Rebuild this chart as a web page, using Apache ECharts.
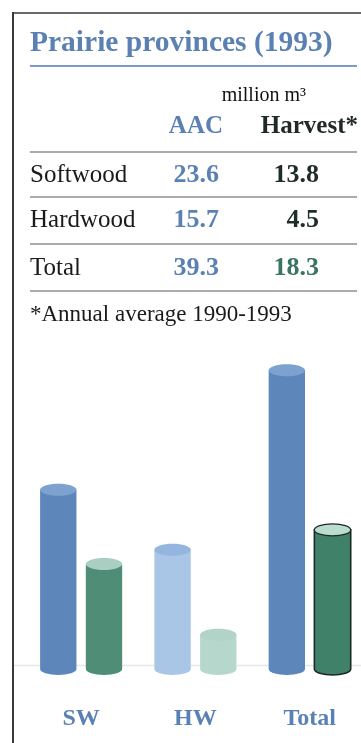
<!DOCTYPE html>
<html>
<head>
<meta charset="utf-8">
<script src="https://cdn.jsdelivr.net/npm/echarts@6/dist/echarts.min.js"></script>
<style>
  html, body { margin: 0; padding: 0; background: #ffffff; }
  #chart { width: 361px; height: 743px; }
</style>
</head>
<body>
<div id="chart"></div>
<script>
// Prairie provinces, 1993 — million m³
const categories = ['SW', 'HW', 'Total'];
const rowLabels = ['Softwood', 'Hardwood', 'Total'];
const aac = [23.6, 15.7, 39.3];
const harvest = [13.8, 4.5, 18.3];

const titleText = 'Prairie provinces (1993)';
const unitText = 'million m³';
const headers = ['AAC', 'Harvest*'];
const footnote = '*Annual average 1990-1993';

// cylinder colours per category: [body, cap, outline]
const aacColors = [
  ['#5d87bb', '#7ea2cf', null],
  ['#a9c6e7', '#94b5de', null],
  ['#5d87bb', '#7ea2cf', null]
];
const harvestColors = [
  ['#4f8d76', '#a9cfc2', null],
  ['#b6d7cb', '#b2d3c7', null],
  ['#3f8169', '#bcdcd2', '#1c2b24']
];

const SERIF = '"Liberation Serif", "DejaVu Serif", serif';
const BLUE = '#5a81b5';

function cylinder(offsetFrac, colors) {
  return function (params, api) {
    const idx = api.value(0);
    const top = api.coord([idx, api.value(1)]);
    const base = api.coord([idx, 0]);
    const band = api.size([1, 0])[0];
    const w = band * 0.318;
    const cx = top[0] + band * offsetFrac;
    const rx = w / 2;
    const ry = 6;
    const l = cx - rx, r = cx + rx;
    const c = colors[params.dataIndex];
    const body = 'M' + l + ',' + top[1] + ' L' + l + ',' + base[1] +
      ' A' + rx + ',' + ry + ' 0 0 0 ' + r + ',' + base[1] +
      ' L' + r + ',' + top[1] + ' Z';
    const stroke = c[2];
    return {
      type: 'group',
      children: [
        {
          type: 'path',
          shape: { pathData: body },
          style: { fill: c[0], stroke: stroke || null, lineWidth: stroke ? 1.6 : 0 }
        },
        {
          type: 'ellipse',
          shape: { cx: cx, cy: top[1], rx: rx, ry: ry },
          style: { fill: c[1], stroke: stroke || null, lineWidth: stroke ? 1.2 : 0 }
        }
      ]
    };
  };
}

// table text, built from the same arrays as the bars
const g = [];
function txt(text, x, y, size, color, weight, align) {
  g.push({
    type: 'text', x: x, y: y, z: 10,
    style: {
      text: text, fill: color, font: (weight || 'normal') + ' ' + size + 'px ' + SERIF,
      textAlign: align || 'left', textVerticalAlign: 'bottom'
    }
  });
}
function hline(y, x1, x2, color, width, z) {
  g.push({
    type: 'line', z: z == null ? 5 : z,
    shape: { x1: x1, y1: y, x2: x2, y2: y },
    style: { stroke: color, lineWidth: width }
  });
}

// frame
hline(13, 12, 361, '#3a3a3a', 1.5);
g.push({ type: 'line', z: 5, shape: { x1: 13, y1: 12, x2: 13, y2: 743 }, style: { stroke: '#3a3a3a', lineWidth: 2 } });

txt(titleText, 30, 58, 29.5, '#5b80b2', 'bold');
hline(66, 30, 357, '#7d9bc3', 2);
txt(unitText, 306, 106, 20, '#111111', 'normal', 'right');
txt(headers[0], 223, 139, 25, BLUE, 'bold', 'right');
txt(headers[1], 358, 139, 25, '#1f2a25', 'bold', 'right');

const rowBase = [188, 233, 281];
const rowLines = [152, 197, 244, 291];
rowLines.forEach(function (y) { hline(y, 30, 357, '#8f8f8f', 1.3); });
const harvestTextColors = ['#1f2d27', '#1f2d27', '#3a7560'];
rowLabels.forEach(function (name, i) {
  txt(name, 30, rowBase[i], 25, '#1a1a1a', 'normal');
  txt(aac[i].toFixed(1), 219, rowBase[i], 26, BLUE, 'bold', 'right');
  txt(harvest[i].toFixed(1), 319, rowBase[i], 26, harvestTextColors[i], 'bold', 'right');
});
txt(footnote, 30, 326, 23, '#1a1a1a', 'normal');

// faint ground line behind the cylinders
hline(665.5, 13, 361, '#e6e6ef', 1.5, 0);

const chart = echarts.init(document.getElementById('chart'), null, { renderer: 'canvas' });
chart.setOption({
  animation: false,
  backgroundColor: '#ffffff',
  grid: { left: 24, right: 0, top: 289, bottom: 74 },
  xAxis: {
    type: 'value',
    min: -0.5,
    max: 2.449,
    splitLine: { show: false },
    axisLine: { show: false },
    axisTick: { show: false },
    axisLabel: {
      customValues: [0, 1, 2],
      formatter: function (v) { return categories[Math.round(v)]; },
      margin: 38,
      color: BLUE,
      fontFamily: SERIF,
      fontWeight: 'bold',
      fontSize: 24
    }
  },
  yAxis: {
    type: 'value', min: 0, max: 50,
    show: false
  },
  graphic: { elements: g },
  series: [
    {
      type: 'custom',
      name: 'AAC',
      renderItem: cylinder(-0.2, aacColors),
      data: aac.map(function (v, i) { return [i, v]; }),
      z: 3
    },
    {
      type: 'custom',
      name: 'Harvest',
      renderItem: cylinder(0.2, harvestColors),
      data: harvest.map(function (v, i) { return [i, v]; }),
      z: 3
    }
  ]
});
</script>
</body>
</html>
